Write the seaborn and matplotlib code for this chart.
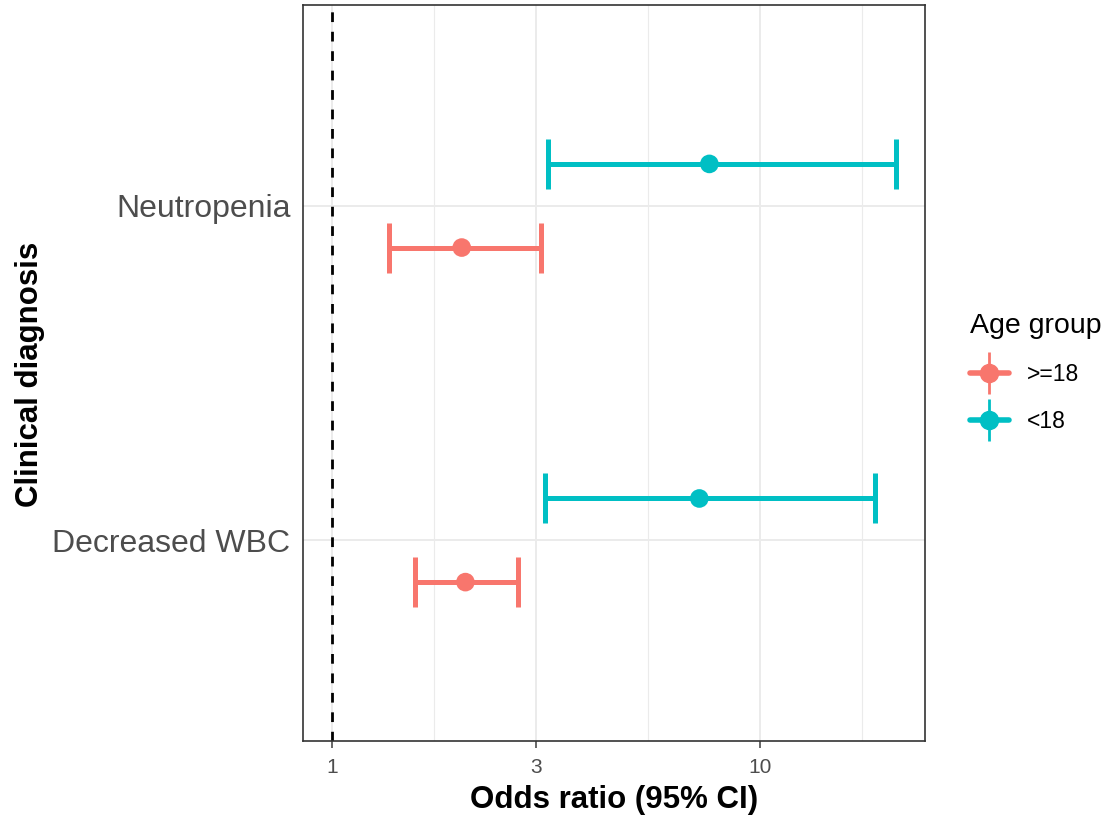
import matplotlib
matplotlib.use("Agg")
import matplotlib.pyplot as plt
from matplotlib.lines import Line2D
from matplotlib.legend_handler import HandlerTuple
from matplotlib.ticker import FixedLocator, NullFormatter
import seaborn as sns
import pandas as pd

# 数据
diagnoses = ["Decreased WBC", "Neutropenia"]
age_groups = [">=18", "<18"]
or_ge18 = [2.05, 2.01]
lo_ge18 = [1.56, 1.36]
hi_ge18 = [2.72, 3.08]
or_lt18 = [7.21, 7.61]
lo_lt18 = [3.15, 3.20]
hi_lt18 = [18.5, 20.8]
x_ticks = [1, 3, 10]
palette = {">=18": "#F8766D", "<18": "#00BFC4"}

dodge = 0.125
rows = []
for i, d in enumerate(diagnoses):
    rows.append(dict(diag=d, group=">=18", pos=i - dodge, OR=or_ge18[i], lo=lo_ge18[i], hi=hi_ge18[i]))
    rows.append(dict(diag=d, group="<18", pos=i + dodge, OR=or_lt18[i], lo=lo_lt18[i], hi=hi_lt18[i]))
df = pd.DataFrame(rows)

sns.set_theme(style="white")
plt.rcParams["font.family"] = ["Liberation Sans", "DejaVu Sans"]

fig = plt.figure(figsize=(11.1, 8.19), dpi=100)
ax = fig.add_axes([0.273, 0.0952, 0.560, 0.8987])
ax.set_xscale("log")

# 网格线
for v in x_ticks:
    ax.axvline(v, color="#EBEBEB", lw=1.4, zorder=0)
for v in [3 ** 0.5, 30 ** 0.5, 300 ** 0.5]:
    ax.axvline(v, color="#EBEBEB", lw=0.8, zorder=0)
for i in range(len(diagnoses)):
    ax.axhline(i, color="#EBEBEB", lw=1.4, zorder=0)

ax.axvline(1, color="black", lw=2, ls=(0, (3.5, 3.5)), zorder=1)

for g in age_groups:
    sub = df[df.group == g]
    ax.errorbar(sub.OR, sub.pos, xerr=[sub.OR - sub.lo, sub.hi - sub.OR],
                fmt="none", ecolor=palette[g], elinewidth=3.6, capsize=18,
                capthick=3.6, zorder=2)
sns.scatterplot(data=df, x="OR", y="pos", hue="group", palette=palette,
                s=180, edgecolor="none", legend=False, ax=ax, zorder=3)

ax.set_xlim(10 ** -0.0674, 10 ** 1.384)
ax.set_ylim(-0.6, 1.6)
ax.xaxis.set_major_locator(FixedLocator(x_ticks))
ax.xaxis.set_minor_locator(FixedLocator([]))
ax.xaxis.set_minor_formatter(NullFormatter())
ax.set_xticklabels([str(v) for v in x_ticks])
ax.set_yticks(range(len(diagnoses)))
ax.set_yticklabels(diagnoses)
ax.tick_params(axis="x", labelsize=15, colors="#4D4D4D", length=5, width=1.2,
               bottom=True, pad=7)
ax.tick_params(axis="y", labelsize=23, colors="#4D4D4D", length=0, left=False, pad=9)
for sp in ax.spines.values():
    sp.set_color("#333333")
    sp.set_linewidth(1.2)

ax.set_xlabel("")
ax.set_ylabel("")
fig.text(614 / 1110, 1 - 800 / 819, "Odds ratio (95% CI)", fontsize=22.5,
         fontweight="bold", color="black", ha="center", va="center")
fig.text(30 / 1110, 1 - 374 / 819, "Clinical diagnosis", fontsize=22.5,
         fontweight="bold", color="black", ha="center", va="center", rotation=90)

handles = []
for g in age_groups:
    h1 = Line2D([], [], color=palette[g], lw=4, marker="o", markersize=13)
    h2 = Line2D([], [], color=palette[g], lw=0, marker="|", markersize=30, markeredgewidth=2)
    handles.append((h1, h2))
leg = fig.legend(handles, age_groups, title="Age group", loc="upper left",
                 bbox_to_anchor=(0.855, 0.643), frameon=False, fontsize=16.5,
                 title_fontsize=20.5, handler_map={tuple: HandlerTuple(ndivide=1)},
                 handlelength=1.7, handletextpad=0.8, labelspacing=1.05,
                 alignment="left")
leg.get_title().set_color("black")
for t in leg.get_texts():
    t.set_color("black")

fig.savefig("out.png", dpi=100)
